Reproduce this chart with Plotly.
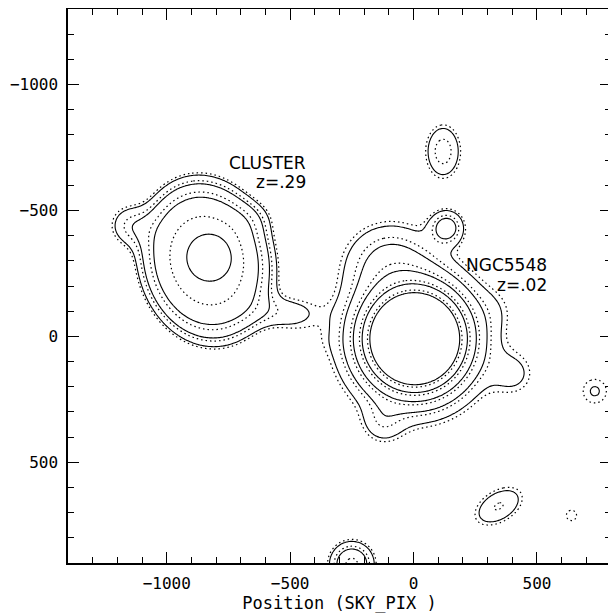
import numpy as np
import plotly.graph_objects as go

# x-ray sources (sky pixels); kind "beta" = power-law wings,
# "gg" = generalised gaussian with exponent idx
SRC_X = [5, -100, 135, 340, 410, -125, -840, -825, -1150, -530, -420, 120, 345, -250, 735, 640, -650]
SRC_Y = [10, -300, -433, -110, 150, 345, -300, -315, -440, -95, 10, -735, 675, 905, 218, 711, -470]
SRC_AMP = [4210, 1.8, 2.4, 0.35, 0.9, 1.0, 7.3, 2.7, 1.6, 1.25, 0.22, 1.9, 1.62, 3.48, 1.02, 0.9, 0.7]
SRC_RX = [60, 170, 64, 100, 100, 85, 235, 84, 85, 140, 110, 75, 122, 81, 90, 58, 90]
SRC_RY = [60, 150, 64, 100, 100, 85, 290, 84, 85, 70, 60, 112, 72, 81, 90, 58, 70]
SRC_ANGLE = [0, 0, 0, 0, 0, 0, -15, 0, 0, 0, 15, 0, -30, 0, 0, 0, 0]
SRC_KIND = ["beta"] + ["gg"] * 16
SRC_IDX = [2.4, 2, 2, 2, 2, 2, 4, 2, 2, 2, 2, 2, 2, 2, 2, 2, 2]

SOLID_LEVELS = [1, 2, 4, 8, 16]
DOTTED_LEVELS = [0.8, 1.6, 3.2, 6.4, 12.8]

LABELS = ["CLUSTER", "z=.29", "NGC5548", "z=.02"]
LABEL_X = [-428, -428, 550, 550]
LABEL_Y = [-690, -615, -282, -203]


def surface_brightness(X, Y):
    f = np.zeros_like(X)
    for i in range(len(SRC_X)):
        t = np.radians(SRC_ANGLE[i])
        dx = X - SRC_X[i]
        dy = Y - SRC_Y[i]
        u = dx * np.cos(t) + dy * np.sin(t)
        v = -dx * np.sin(t) + dy * np.cos(t)
        q = (u / SRC_RX[i]) ** 2 + (v / SRC_RY[i]) ** 2
        if SRC_KIND[i] == "beta":
            f += SRC_AMP[i] / (1 + q) ** SRC_IDX[i]
        else:
            f += SRC_AMP[i] * np.exp(-q ** (SRC_IDX[i] / 2))
    return f


gx = np.arange(-1460, 861, 6.0)
gy = np.arange(-1360, 1001, 6.0)
X, Y = np.meshgrid(gx, gy)
Z = np.log2(np.maximum(surface_brightness(X, Y), 1e-6))

fig = go.Figure()
black = [[0, "black"], [1, "black"]]
for lv in SOLID_LEVELS:
    fig.add_trace(go.Contour(
        x=gx, y=gy, z=Z, showscale=False, colorscale=black, hoverinfo="skip",
        contours=dict(coloring="lines", start=np.log2(lv), end=np.log2(lv), size=1),
        line=dict(color="black", width=1.1, smoothing=1.3)))
for lv in DOTTED_LEVELS:
    fig.add_trace(go.Contour(
        x=gx, y=gy, z=Z, showscale=False, colorscale=black, hoverinfo="skip",
        contours=dict(coloring="lines", start=np.log2(lv), end=np.log2(lv), size=1),
        line=dict(color="black", width=1.2, dash="1.5px,3px", smoothing=1.3)))

for txt, lx, ly in zip(LABELS, LABEL_X, LABEL_Y):
    fig.add_annotation(x=lx, y=ly, text=txt, showarrow=False, xanchor="right",
                       font=dict(family="DejaVu Sans", size=17, color="black"))

axis_common = dict(
    showgrid=False, zeroline=False, showline=True, linecolor="black", linewidth=1.5,
    mirror="ticks", ticks="inside", ticklen=11, tickcolor="black", tickwidth=1,
    tickmode="linear", tick0=0, dtick=500, ticklabelstandoff=5,
    minor=dict(ticks="inside", ticklen=6, tickcolor="black", dtick=100, tick0=0, showgrid=False),
    tickfont=dict(family="DejaVu Sans Mono", size=16, color="black"),
)
fig.update_xaxes(range=[-1400, 800], automargin=False,
                 title=dict(text="Position (SKY_PIX )", standoff=7,
                            font=dict(family="DejaVu Sans Mono", size=17, color="black")),
                 **axis_common)
fig.update_yaxes(range=[900, -1300], automargin=False, **axis_common)

# the page body adds an 8px offset, so the figure is drawn 8px smaller
fig.update_layout(
    width=608, height=605, showlegend=False,
    margin=dict(l=60, r=5, t=1, b=50, autoexpand=False),
    plot_bgcolor="white", paper_bgcolor="white",
)
fig.write_html("out.html")
